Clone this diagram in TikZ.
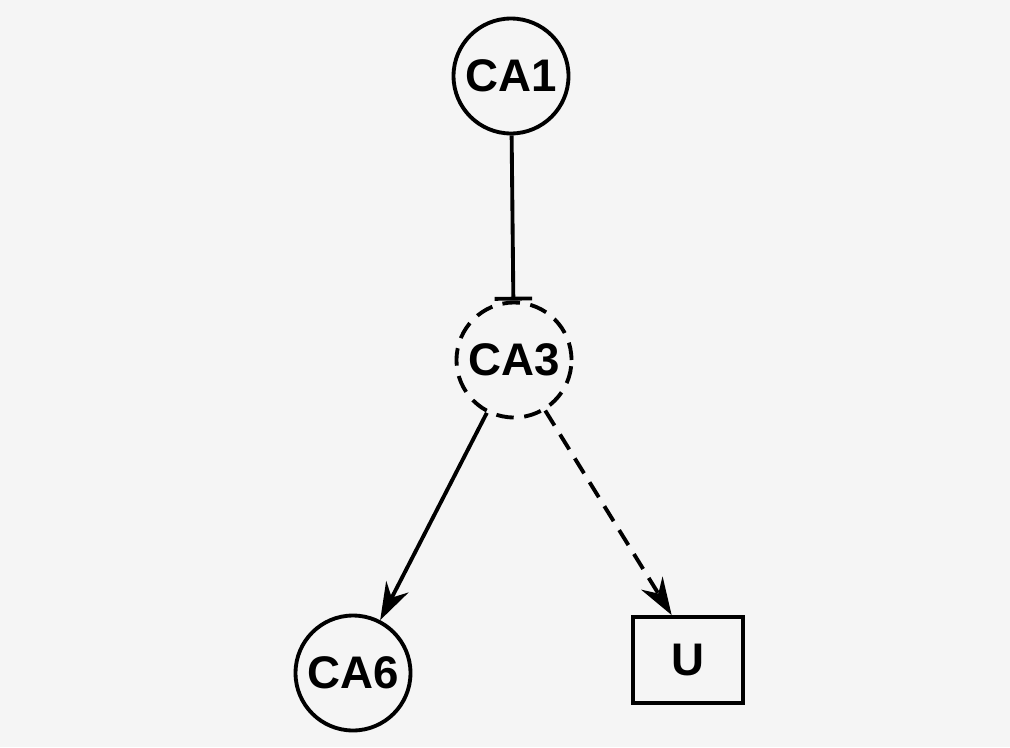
\documentclass[tikz,border=0pt]{standalone}
\usepackage{fontspec}
\setmainfont{Liberation Sans}
\usetikzlibrary{arrows.meta}
\begin{document}
\begin{tikzpicture}[x=0.02cm,y=-0.02cm]
\tikzstyle{every node}+=[font=\fontsize{26}{30}\selectfont\bfseries]
\tikzstyle{region}=[draw=black, circle, line width=2.2pt, minimum size=2.3cm, inner sep=0pt]
\tikzstyle{unit}=[draw=black, line width=2.2pt, minimum width=2.2cm, minimum height=1.72cm, inner sep=0pt]
\tikzstyle{link}=[black, line width=2.2pt]
\tikzstyle{dashlink}=[link, dash pattern=on 10pt off 6pt]
\fill [black!4] (0,0) rectangle (1010,747);
\node [region] (ca1) at (511,76) {CA1};
\node [region, dashlink] (ca3) at (514,360) {CA3};
\node [region] (ca6) at (353,673) {CA6};
\node [unit] (u) at (688,660) {U};
\draw [link, -{Bar[width=0.75cm,line width=2.2pt]}] (ca1) -- (ca3);
\draw [link, -{Stealth[length=0.75cm,width=0.5cm]}] (ca3) -- (ca6);
\draw [dashlink, -{Stealth[length=0.75cm,width=0.5cm]}] (ca3) -- (u.110);
\end{tikzpicture}
\end{document}
